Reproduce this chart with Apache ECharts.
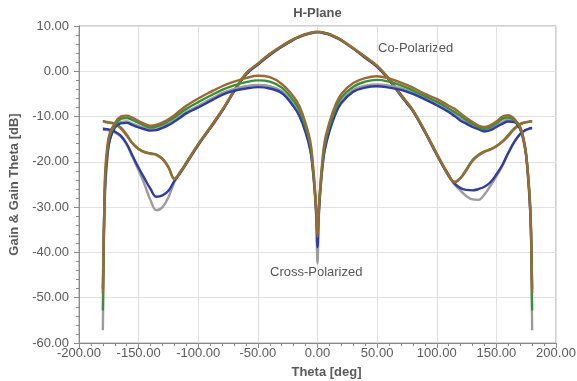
<!DOCTYPE html>
<html>
<head>
<meta charset="utf-8">
<script src="https://cdn.jsdelivr.net/npm/echarts@6/dist/echarts.min.js"></script>
<style>html,body{margin:0;padding:0;background:#fff}#c{width:577px;height:381px}</style>
</head>
<body>
<div id="c"></div>
<script>
const theta = [-180,-179,-178,-176,-174,-170,-165,-160,-155,-150,-145,-140,-135,-130,-125,-120,-115,-110,-100,-90,-80,-70,-60,-50,-40,-30,-20,-15,-10,-6,-4,-2,-1,0,1,2,4,6,10,15,20,30,40,50,60,70,80,90,100,110,115,120,125,130,135,140,145,150,155,160,165,170,174,176,178,179,180];

const coBrown = [-11,-11,-11.1,-11.2,-11.3,-11.6,-12.6,-14.2,-16,-17.2,-17.9,-18.2,-18.5,-19.4,-21.2,-23.8,-22.2,-20.2,-16.1,-12.4,-8.6,-4.3,-0.5,1.7,3.8,5.6,7.1,7.7,8.2,8.5,8.6,8.7,8.7,8.7,8.7,8.7,8.6,8.5,8.2,7.6,6.9,5.1,3.2,1.2,-1.7,-5.2,-8.6,-13.2,-18.2,-22.9,-24.5,-23.6,-21.8,-19.8,-18.6,-17.8,-17.3,-16.6,-15.6,-14.3,-12.8,-11.8,-11.3,-11.2,-11.1,-11,-11];
const coGreen = [-11.1,-11.1,-11.2,-11.3,-11.4,-11.6,-12.4,-14,-15.9,-17.1,-17.8,-18.1,-18.4,-19.3,-21.1,-23.7,-22.2,-20.2,-16.1,-12.4,-8.6,-4.3,-0.5,1.7,3.8,5.6,7.1,7.7,8.2,8.5,8.6,8.7,8.7,8.7,8.7,8.7,8.6,8.5,8.2,7.6,6.9,5.1,3.2,1.2,-1.7,-5.2,-8.6,-13.2,-18.2,-22.9,-24.4,-23.5,-21.6,-19.6,-18.4,-17.7,-17.2,-16.5,-15.5,-14.1,-12.6,-11.6,-11.3,-11.2,-11.1,-11.1,-11.1];
const coBlue = [-12.7,-12.7,-12.75,-12.8,-12.9,-13.3,-14.2,-16,-18.7,-21.3,-23.7,-26,-27.7,-27.4,-26.4,-24.2,-22.4,-20.4,-16.3,-12.6,-8.8,-4.5,-0.7,1.5,3.6,5.4,7,7.6,8.1,8.4,8.5,8.6,8.6,8.6,8.6,8.6,8.5,8.4,8.1,7.5,6.8,5,3,1,-1.9,-5.4,-8.8,-13.4,-18.4,-23.1,-24.8,-25.8,-26.2,-26.3,-26,-25.5,-24.5,-22.8,-20.7,-18,-15.6,-13.8,-13,-12.8,-12.6,-12.5,-12.5];
const coGrey = [-12.9,-12.9,-12.95,-13,-13.1,-13.5,-14.4,-16.2,-19,-21.9,-25,-28.5,-30.7,-30,-27.8,-24.5,-22.4,-20.4,-16.3,-12.6,-8.8,-4.5,-0.7,1.5,3.6,5.4,7,7.6,8.1,8.4,8.5,8.6,8.6,8.6,8.6,8.6,8.5,8.4,8.1,7.5,6.8,5,3,1,-1.9,-5.4,-8.8,-13.4,-18.4,-23.2,-25,-26.4,-27.6,-28.3,-28.4,-27.2,-25.3,-23.2,-20.9,-18.1,-15.7,-13.9,-13.1,-12.9,-12.7,-12.7,-12.7];

const xBrown = [-49,-33,-22,-16,-13.5,-11.5,-10,-9.8,-10.3,-11,-11.6,-12,-11.8,-11.3,-10.6,-9.7,-8.6,-7.6,-6,-4.6,-3.3,-2.3,-1.5,-1,-1.3,-2.8,-5.6,-7.8,-11.5,-15.5,-20,-26.5,-31,-36.6,-31,-26.5,-20,-15.5,-11.3,-7.5,-5,-2.6,-1.5,-1.1,-1.6,-2.5,-3.6,-5,-6.1,-7.6,-8.3,-9.3,-10.3,-11.2,-12,-12.3,-11.9,-11.1,-10,-9.7,-10.5,-12.3,-16.5,-21,-28,-34,-49];
const xGreen = [-52.8,-34,-23,-17,-14,-12,-10.5,-10.3,-10.8,-11.4,-12,-12.4,-12.2,-11.7,-11,-10.2,-9.2,-8.3,-6.8,-5.4,-4.1,-3.1,-2.4,-2,-2.3,-3.6,-6.5,-8.7,-12.3,-16.3,-20.7,-27,-31,-35,-31,-27,-20.7,-16.3,-12.1,-8.4,-5.8,-3.4,-2.3,-1.9,-2.3,-3.1,-4.2,-5.5,-6.7,-8.2,-9,-9.9,-10.8,-11.6,-12.3,-12.7,-12.3,-11.5,-10.5,-10.2,-10.8,-12.5,-16.7,-21,-28,-35,-52.8];
const xBlue = [-48,-33,-25,-18,-15,-12.5,-11.5,-11.4,-11.9,-12.4,-12.8,-13.1,-13,-12.5,-11.9,-11.1,-10.2,-9.3,-8,-6.6,-5.2,-4.3,-3.8,-3.5,-3.8,-4.8,-7.8,-10,-13.5,-17.5,-21.5,-27.5,-32,-38.8,-32,-27.5,-21.5,-17.5,-13.3,-9.5,-7,-4.5,-3.6,-3.3,-3.6,-4.1,-5,-6.2,-7.5,-9,-9.9,-10.9,-11.6,-12.3,-12.8,-13.3,-13,-12.3,-11.6,-11.1,-11.2,-12.8,-17,-21.5,-29,-35,-48];
const xGrey = [-57.2,-36,-26,-18.5,-15,-12.2,-11.2,-11.1,-11.6,-12.1,-12.5,-12.8,-12.7,-12.2,-11.6,-10.8,-9.9,-9,-7.6,-6.2,-4.8,-3.9,-3.3,-3,-3.3,-4.4,-7.4,-9.6,-13.2,-17.2,-21.5,-28,-33,-42.4,-33,-28,-21.5,-17.2,-13,-9.2,-6.6,-4.1,-3.2,-2.9,-3.2,-3.7,-4.6,-5.8,-7.1,-8.6,-9.5,-10.5,-11.2,-11.9,-12.4,-12.9,-12.6,-11.9,-11.2,-10.7,-10.9,-12.5,-17,-21.5,-29,-36,-57.2];

const colors = {grey:'#9c9c9c', blue:'#2e3d9e', green:'#3a8f3e', brown:'#9a6a34'};
const FONT = '"Liberation Sans", Arial, sans-serif';

function mk(name, arr, color) {
  return {
    name: name, type: 'line', data: theta.map((t, i) => [t, arr[i]]),
    showSymbol: false, smooth: 0.4,
    lineStyle: {width: 2.4, color: color}, itemStyle: {color: color},
    emphasis: {disabled: true}
  };
}

const chart = echarts.init(document.getElementById('c'), null, {renderer: 'canvas'});
chart.setOption({
  animation: false,
  backgroundColor: '#fff',
  grid: {left: 79, right: 21, top: 26, bottom: 38, show: true, borderColor: '#a0a0a0', borderWidth: 1,
         containLabel: false, outerBoundsMode: 'none'},
  xAxis: {
    type: 'value', min: -200, max: 200, interval: 50,
    name: 'Theta [deg]', nameLocation: 'middle', nameGap: 23,
    nameTextStyle: {fontFamily: FONT, fontSize: 13, fontWeight: 'bold', color: '#5a5a5a', padding: [0, 0, 0, 18]},
    axisLine: {show: true, onZero: false, lineStyle: {color: '#8a8a8a'}},
    axisTick: {show: true, length: 5, lineStyle: {color: '#8a8a8a'}},
    minorTick: {show: true, splitNumber: 5, length: 3, lineStyle: {color: '#8a8a8a'}},
    axisLabel: {fontFamily: FONT, fontSize: 13, color: '#5a5a5a', margin: 4, formatter: v => v.toFixed(2)},
    splitLine: {show: true, lineStyle: {color: '#e2e2e2', width: 1}}
  },
  yAxis: {
    type: 'value', min: -60, max: 10, interval: 10,
    name: 'Gain & Gain Theta [dB]', nameLocation: 'middle', nameGap: 48,
    nameTextStyle: {fontFamily: FONT, fontSize: 13, fontWeight: 'bold', color: '#5a5a5a'},
    axisLine: {show: true, onZero: false, lineStyle: {color: '#8a8a8a'}},
    axisTick: {show: true, length: 5, lineStyle: {color: '#8a8a8a'}},
    minorTick: {show: true, splitNumber: 5, length: 3, lineStyle: {color: '#8a8a8a'}},
    axisLabel: {fontFamily: FONT, fontSize: 13, color: '#5a5a5a', margin: 10, formatter: v => v.toFixed(2)},
    splitLine: {show: true, lineStyle: {color: '#e2e2e2', width: 1}}
  },
  graphic: [
    {type: 'text', x: 317.5, y: 13, style: {text: 'H-Plane', font: 'bold 13px ' + FONT, fill: '#555', align: 'center', verticalAlign: 'middle'}},
    {type: 'text', x: 378, y: 48, style: {text: 'Co-Polarized', font: '13px ' + FONT, fill: '#555', align: 'left', verticalAlign: 'middle'}},
    {type: 'text', x: 270, y: 272, style: {text: 'Cross-Polarized', font: '13px ' + FONT, fill: '#555', align: 'left', verticalAlign: 'middle'}}
  ],
  series: [
    mk('Co grey', coGrey, colors.grey),
    mk('Co blue', coBlue, colors.blue),
    mk('Co green', coGreen, colors.green),
    mk('Co brown', coBrown, colors.brown),
    mk('Cross grey', xGrey, colors.grey),
    mk('Cross blue', xBlue, colors.blue),
    mk('Cross green', xGreen, colors.green),
    mk('Cross brown', xBrown, colors.brown)
  ]
});
</script>
</body>
</html>
